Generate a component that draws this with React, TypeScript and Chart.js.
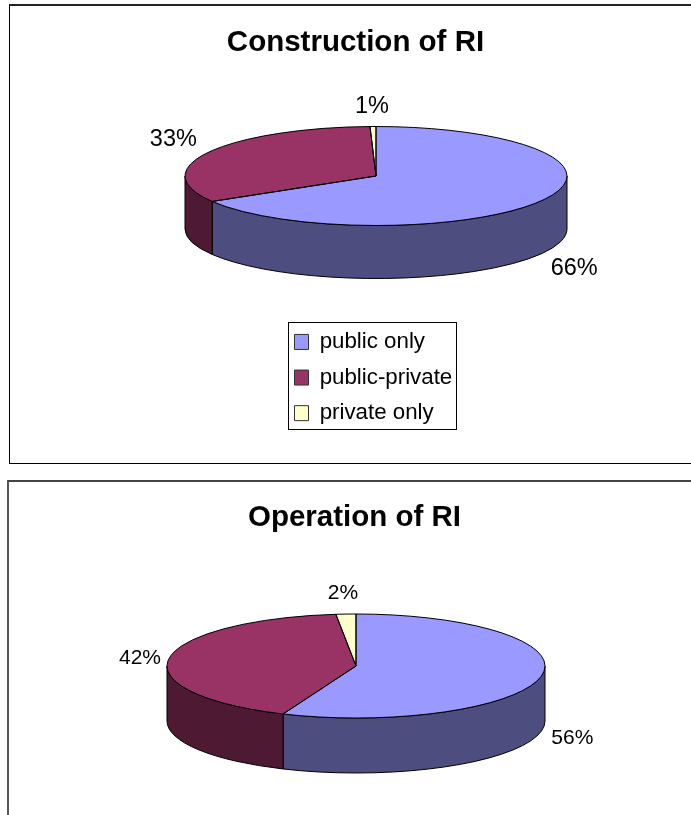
import React, { useEffect, useRef } from "react";
import { Chart, registerables } from "chart.js";

Chart.register(...registerables);

const FONT = '"Liberation Sans", Arial, sans-serif';

const categories = ["public only", "public-private", "private only"];
const constructionValues = [66.4, 33.1, 0.5];
const operationValues = [56.3, 42, 1.7];
const topColors = ["#9999FF", "#993366", "#FFFFCC"];
const sideColors = ["#4D4D80", "#4D1933", "#808066"];

const pie3dPlugin = {
  id: "pie3d",
  afterLayout(chart: any) {
    const o = chart.options.plugins.pie3d;
    const L = chart.legend;
    if (o.legendPos && L && L.options.display) {
      L.left = o.legendPos.x;
      L.top = o.legendPos.y;
      L.right = o.legendPos.x + o.legendPos.w;
      L.bottom = o.legendPos.y + o.legendPos.h;
      L.width = o.legendPos.w;
      L.height = o.legendPos.h;
    }
  },
  beforeDatasetsDraw(chart: any) {
    const o = chart.options.plugins.pie3d;
    const { ctx } = chart;
    const arcs = chart.getDatasetMeta(0).data;
    const r = arcs[0].outerRadius;
    // side wall, only where it faces the viewer
    arcs.forEach((a: any, i: number) => {
      const s = Math.max(a.startAngle, 0);
      const e = Math.min(a.endAngle, Math.PI);
      if (e <= s) return;
      ctx.beginPath();
      ctx.ellipse(o.cx, o.cy, o.rx, o.ry, 0, s, e);
      ctx.ellipse(o.cx, o.cy + o.depth, o.rx, o.ry, 0, e, s, true);
      ctx.closePath();
      ctx.fillStyle = sideColors[i];
      ctx.fill();
      ctx.lineWidth = 1;
      ctx.strokeStyle = "#000";
      ctx.stroke();
    });
    ctx.save();
    ctx.translate(o.cx, o.cy);
    ctx.scale(o.rx / r, o.ry / r);
    ctx.translate(-arcs[0].x, -arcs[0].y);
  },
  afterDatasetsDraw(chart: any) {
    const o = chart.options.plugins.pie3d;
    const { ctx } = chart;
    ctx.restore();
    const arcs = chart.getDatasetMeta(0).data;
    const values = chart.data.datasets[0].data;
    arcs.forEach((a: any, i: number) => {
      ctx.beginPath();
      ctx.moveTo(o.cx, o.cy);
      ctx.ellipse(o.cx, o.cy, o.rx, o.ry, 0, a.startAngle, a.endAngle);
      ctx.closePath();
      ctx.lineWidth = 1;
      ctx.strokeStyle = "#000";
      ctx.stroke();
      const mid = (a.startAngle + a.endAngle) / 2;
      const front = Math.sin(mid) > 0 ? o.depth : 0;
      ctx.fillStyle = "#000";
      ctx.font = `${o.labelSize}px ${FONT}`;
      ctx.textAlign = "center";
      ctx.textBaseline = "middle";
      ctx.fillText(
        `${Math.round(values[i])}%`,
        o.cx + o.rx * Math.cos(mid) + o.labelOffsets[i][0],
        o.cy + o.ry * Math.sin(mid) + front + o.labelOffsets[i][1]
      );
    });
    const L = chart.legend;
    if (o.legendBox && L && L.options.display) {
      const b = o.legendBox;
      ctx.lineWidth = 1;
      ctx.strokeStyle = "#000";
      ctx.strokeRect(b.x + 0.5, b.y + 0.5, b.w, b.h);
    }
  },
};

function PieCard(props: any) {
  const ref = useRef<HTMLCanvasElement>(null);
  useEffect(() => {
    const chart = new Chart(ref.current as any, {
      type: "pie",
      data: {
        labels: categories,
        datasets: [
          { data: props.values, backgroundColor: topColors, borderWidth: 0 },
        ],
      },
      plugins: [pie3dPlugin],
      options: {
        responsive: false,
        animation: false,
        events: [],
        plugins: {
          title: {
            display: true,
            text: props.title,
            color: "#000",
            font: { family: FONT, size: props.titleSize, weight: "bold" },
            padding: { top: props.titleTop, bottom: 10 },
          },
          legend: {
            display: !!props.legendBox,
            position: "bottom",
            align: "start",
            maxWidth: 172,
            labels: {
              color: "#000",
              font: { family: FONT, size: 22.3 },
              boxWidth: 14,
              boxHeight: 15,
              padding: 13.3,
              generateLabels(chart: any) {
                return chart.data.labels.map((t: string, i: number) => ({
                  text: t,
                  fillStyle: topColors[i],
                  strokeStyle: "#333",
                  lineWidth: 1,
                  index: i,
                  fontColor: "#000",
                }));
              },
            },
          },
          tooltip: { enabled: false },
          pie3d: {
            cx: props.cx,
            cy: props.cy,
            rx: props.rx,
            ry: props.ry,
            depth: props.depth,
            labelSize: props.labelSize,
            labelOffsets: props.labelOffsets,
            legendBox: props.legendBox,
            legendPos: props.legendPos,
          },
        },
      } as any,
    });
    return () => chart.destroy();
  }, []);
  return (
    <div
      style={{
        position: "absolute",
        left: props.left,
        top: props.top,
        width: 691,
        height: props.height,
        borderTop: props.borderTop,
        borderLeft: props.borderLeft,
        borderBottom: props.borderBottom,
        background: "#fff",
      }}
    >
      <canvas ref={ref} width={691} height={props.height} style={{ display: "block" }} />
    </div>
  );
}

export default function App() {
  return (
    <div style={{ position: "absolute", left: 0, top: 0, width: 691, height: 815, overflow: "hidden", background: "#fff" }}>
      <PieCard
        title="Construction of RI"
        titleSize={29.5}
        titleTop={19}
        values={constructionValues}
        left={9}
        top={4}
        height={457}
        borderTop="2px solid #222"
        borderLeft="1px solid #000"
        borderBottom="1px solid #000"
        cx={366}
        cy={170}
        rx={191}
        ry={49.5}
        depth={53}
        labelSize={23.5}
        labelOffsets={[[32, 15], [-35, -13], [-1, -20]]}
        legendBox={{ x: 278, y: 316, w: 168, h: 107 }}
        legendPos={{ x: 271.2, y: 311.5, w: 200, h: 130 }}
      />
      <PieCard
        title="Operation of RI"
        titleSize={29.5}
        titleTop={18}
        values={operationValues}
        left={7}
        top={480}
        height={400}
        borderTop="2px solid #444"
        borderLeft="2px solid #555"
        cx={347}
        cy={184}
        rx={189}
        ry={52}
        depth={55}
        labelSize={21}
        labelOffsets={[[31, 7], [-29, 0], [-3, -21]]}
      />
    </div>
  );
}
